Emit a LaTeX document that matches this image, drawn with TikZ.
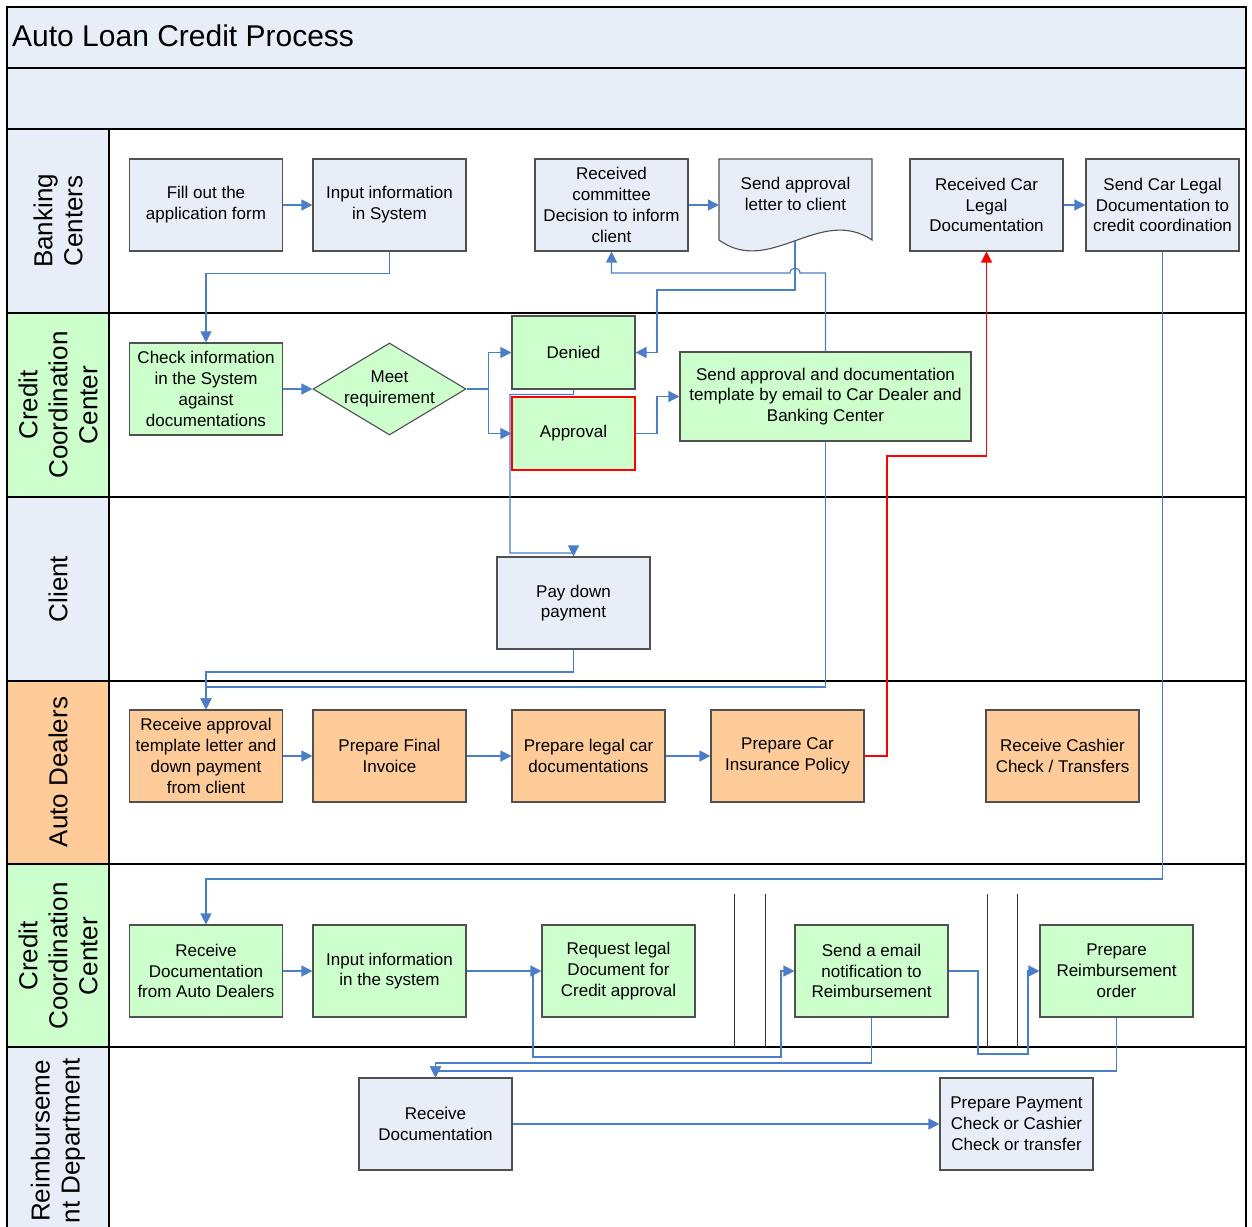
\documentclass[tikz,border=0pt]{standalone}
\usepackage{fontspec}
\setmainfont{Liberation Sans}
\usetikzlibrary{arrows.meta,shapes.geometric}
\definecolor{paleblue}{HTML}{E8EEF8}
\definecolor{palegreen}{HTML}{CCFFCC}
\definecolor{paleorange}{HTML}{FFCC99}
\definecolor{linkblue}{HTML}{4A7EC8}
\definecolor{edgegray}{HTML}{505050}
\newcommand\bxfont{\fontsize{17}{20.8}\selectfont}
\newcommand\lnfont{\fontsize{26}{30}\selectfont}
\begin{document}
\begin{tikzpicture}[x=1pt,y=-1pt,
  box/.style={draw=edgegray, line width=1.1pt, minimum width=153pt, minimum height=92pt,
              inner sep=0pt, align=center, font=\bxfont},
  bluebox/.style={box, fill=paleblue},
  greenbox/.style={box, fill=palegreen},
  orangebox/.style={box, fill=paleorange},
  smallbox/.style={greenbox, minimum width=123pt, minimum height=73pt},
  txt/.style={inner sep=0pt, align=center, font=\bxfont},
  lanelabel/.style={rotate=90, inner sep=0pt, align=center, font=\lnfont},
  lane/.style={draw=black, line width=1.2pt},
  conn/.style={draw=linkblue, line width=1.2pt, -{Triangle[length=11pt,width=11pt]}},
  redconn/.style={draw=red, line width=1.2pt, -{Triangle[length=11pt,width=11pt]}},
  phase/.style={draw=black!80, line width=1pt}]

\useasboundingbox (0,0) rectangle (1252,1226);
\clip (0,0) rectangle (1252,1226);

% header bands and lane label column
\fill[paleblue] (7,7) rectangle (1246,129);
\fill[paleblue] (7,129) rectangle (109,313);
\fill[palegreen] (7,313) rectangle (109,497);
\fill[paleblue] (7,497) rectangle (109,681);
\fill[paleorange] (7,681) rectangle (109,864);
\fill[palegreen] (7,864) rectangle (109,1047);
\fill[paleblue] (7,1047) rectangle (109,1240);

% frame and lane separators
\draw[lane] (7,1240) -- (7,7) -- (1246,7) -- (1246,1240);
\foreach \yy in {68,129,313,497,681,864,1047}
  \draw[lane] (7,\yy) -- (1246,\yy);
\draw[lane] (109,129) -- (109,1240);

% phase separators in the lower coordination lane
\draw[phase] (734,894) -- (734,1047);
\draw[phase] (765,894) -- (765,1047);
\draw[phase] (987,894) -- (987,1047);
\draw[phase] (1017,894) -- (1017,1047);

% title
\node[anchor=base west, inner sep=0pt, font=\fontsize{30}{36}\selectfont] (title) at (12,46) {Auto Loan Credit Process};

% lane names
\node[lanelabel] (lbank) at (58,221) {Banking\\Centers};
\node[lanelabel] (lcc1) at (58,405) {Credit\\Coordination\\Center};
\node[lanelabel] (lclient) at (58,589) {Client};
\node[lanelabel] (ldealer) at (58,772) {Auto Dealers};
\node[lanelabel] (lcc2) at (58,956) {Credit\\Coordination\\Center};
\node[lanelabel] (lreimb) at (58,1141) {Reimburseme\\nt Department};

% Banking Centers
\node[bluebox] (fill) at (206,205) {Fill out the\\application form};
\node[bluebox] (input1) at (389.5,205) {Input information\\in System};
\node[bluebox] (received) at (611.5,205) {Received\\committee\\Decision to inform\\client};
\draw[draw=edgegray, line width=1.1pt, fill=paleblue]
  (719,159) -- (872,159) -- (872,240)
  .. controls (820,205) and (770,277) .. (719,240) -- cycle;
\node[txt] (letter) at (795.5,194) {Send approval\\letter to client};
\coordinate (letterB) at (795,241);
\node[bluebox] (carlegal) at (986.5,205) {Received Car\\Legal\\Documentation};
\node[bluebox] (sendlegal) at (1162.5,205) {Send Car Legal\\Documentation to\\credit coordination};

% Credit Coordination Center (upper)
\node[greenbox] (check) at (206,389) {Check information\\in the System\\against\\documentations};
\node[diamond, draw=edgegray, line width=1.1pt, fill=palegreen, inner sep=0pt,
      minimum width=153pt, minimum height=92pt] (meet) at (389.5,389) {};
\node[txt] (meettxt) at (meet.center) {Meet\\requirement};
\node[smallbox] (denied) at (573.5,352.5) {Denied};
\node[smallbox, draw=red] (approval) at (573.5,433.5) {Approval};
\node[greenbox, minimum width=291pt, minimum height=89pt] (sendtpl) at (825.5,396.5)
  {Send approval and documentation\\template by email to Car Dealer and\\Banking Center};

% Client
\node[bluebox] (paydown) at (573.5,603) {Pay down\\payment};

% Auto Dealers
\node[orangebox] (recv) at (206,756) {Receive approval\\template letter and\\down payment\\from client};
\node[orangebox] (invoice) at (389.5,756) {Prepare Final\\Invoice};
\node[orangebox] (legal) at (588.5,756) {Prepare legal car\\documentations};
\node[orangebox] (insur) at (787.5,756) {Prepare Car\\Insurance Policy};
\node[orangebox] (cashier) at (1062.5,756) {Receive Cashier\\Check / Transfers};

% Credit Coordination Center (lower)
\node[greenbox] (recvdoc) at (206,971) {Receive\\Documentation\\from Auto Dealers};
\node[greenbox] (input2) at (389.5,971) {Input information\\in the system};
\node[greenbox] (request) at (618.5,971) {Request legal\\Document for\\Credit approval};
\node[greenbox] (email) at (871.5,971) {Send a email\\notification to\\Reimbursement};
\node[greenbox] (reimb) at (1116.5,971) {Prepare\\Reimbursement\\order};

% Reimbursement Department
\node[bluebox] (recvd2) at (435.5,1124) {Receive\\Documentation};
\node[bluebox] (payment) at (1016.5,1124) {Prepare Payment\\Check or Cashier\\Check or transfer};

% ---- connectors ----
\draw[conn] (fill) -- (input1);
\draw[conn] (input1.south) -- ++(0,22) -| (check.north);
\draw[conn] (check) -- (meet);
\draw[conn] (meet.east) -- ++(22,0) |- (denied.west);
\draw[conn] (meet.east) -- ++(22,0) |- (approval.west);
\draw[conn] (approval.east) -- (657,433.5) |- (sendtpl.west);
\draw[conn] (letterB) |- (657,290) |- (denied.east);
\draw[conn] (received) -- (719,205);
\draw[conn] (sendtpl.north) -- (825.5,273) -- (800,273)
  .. controls (800,266.5) and (790,266.5) .. (790,273) -- (611.5,273) -- (received.south);
\draw[conn] (sendtpl.south) -- (825.5,687) -| (recv.north);
\draw[conn] (denied.south) -- ++(0,5) -- (510,394.5) -- (510,553) -| (paydown.north);
\draw[conn] (paydown.south) -- (573.5,672) -| (recv.north);
\draw[conn] (recv) -- (invoice);
\draw[conn] (invoice) -- (legal);
\draw[conn] (legal) -- (insur);
\draw[redconn] (insur.east) -- (887,756) -- (887,456) -| (carlegal.south);
\draw[conn] (carlegal) -- (sendlegal);
\draw[conn] (sendlegal.south) -- (1162.5,879) -| (recvdoc.north);
\draw[conn] (recvdoc) -- (input2);
\draw[conn] (input2) -- (request);
\draw[conn] (533,971) -- (533,1057) -- (781,1057) |- (email.west);
\draw[conn] (email.east) -- (978,971) -- (978,1054) -- (1028,1054) |- (reimb.west);
\draw[conn] (email.south) -- (871.5,1063) -| (recvd2.north);
\draw[conn] (reimb.south) -- (1116.5,1071) -| (recvd2.north);
\draw[conn] (recvd2) -- (payment);

\end{tikzpicture}
\end{document}
